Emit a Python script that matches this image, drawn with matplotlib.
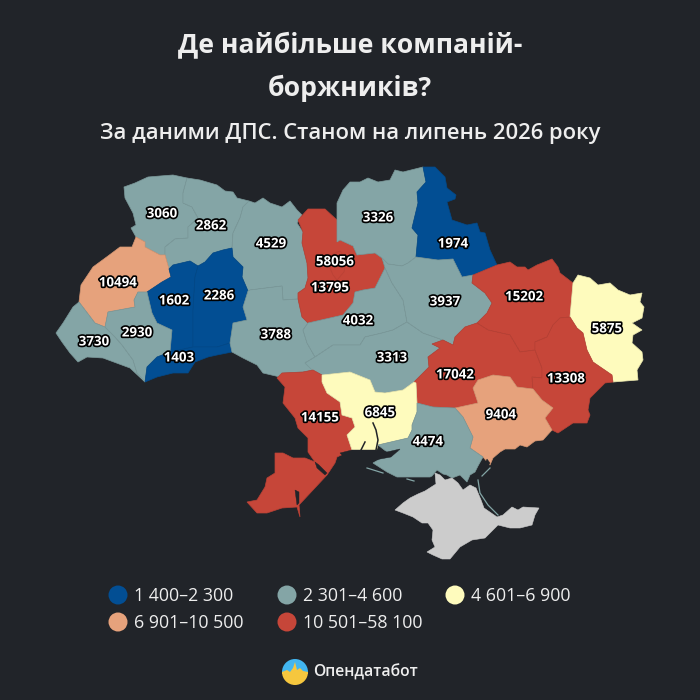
#Python3 code for the debtor companies map
import matplotlib
matplotlib.use("Agg")
import matplotlib.pyplot as plt
import matplotlib.patheffects as pe
from matplotlib.patches import Polygon, Circle, Wedge

BG = "#212429"
BLUE = "#024e93"
TEAL = "#84a5a6"
YELLOW = "#fefbbd"
ORANGE = "#e6a27c"
RED = "#c64639"
GREY = "#cccccc"
FONT = "Open Sans"

# Region values
counts = [3060, 2862, 4529, 10494, 1602, 2286, 3730, 2930, 1403, 3788, 58056, 13795, 4032,
          3313, 3326, 1974, 3937, 15202, 5875, 17042, 13308, 9404, 14155, 6845, 4474]

# Legend
bins = [2300, 4600, 6900, 10500, 58100]
bin_colors = [BLUE, TEAL, YELLOW, ORANGE, RED]
bin_labels = ["1 400–2 300", "2 301–4 600", "4 601–6 900", "6 901–10 500", "10 501–58 100"]

# Where each value sits on the map
label_x = [162, 211, 271, 118, 174, 219, 94, 137, 179, 276, 335, 330, 358,
           392, 378, 453, 445, 524, 607, 455, 566, 501, 320, 380, 428]
label_y = [214, 226, 244, 283, 301, 296, 342, 333, 358, 335, 262, 288, 321,
           358, 218, 244, 302, 297, 329, 375, 379, 415, 418, 413, 442]

# Region outlines
volyn = [(124,187),(135,183),(148,177),(160,176),(173,175),(187,178),(183,193),(183,203),(192,207),(198,218),
         (188,227),(188,238),(175,239),(165,247),(165,255),(160,255),(145,247),(145,242),(136,237),(131,228),
         (136,225),(133,213),(125,198)]
rivne = [(187,178),(200,180),(217,185),(225,191),(233,192),(237,198),(249,201),(243,207),(240,218),(233,233),(232,248),
         (223,250),(213,253),(205,262),(198,266),(190,261),(173,265),(169,269),(165,255),(165,247),(175,239),
         (188,238),(188,227),(198,218),(192,207),(183,203),(183,193)]
zhytomyr = [(249,201),(255,203),(263,198),(270,203),(282,207),(290,201),(297,210),(302,215),(297,223),(303,232),
            (302,243),(307,263),(308,278),(305,288),(298,293),(298,299),(283,300),(282,286),(250,290),(248,291),
            (242,277),(243,267),(233,257),(232,248),(233,233),(240,218),(243,207)]
lviv = [(136,237),(145,242),(145,247),(160,255),(165,255),(169,269),(171,277),(162,282),(147,292),(138,292),
        (134,300),(135,307),(108,312),(105,327),(95,323),(79,302),(81,285),(93,267),(108,256),(120,247),(132,247)]
ternopil = [(169,269),(173,265),(190,261),(198,266),(195,277),(193,310),(193,347),(170,352),(172,330),(157,323),
            (152,313),(147,292),(162,282),(171,277)]
khmelnytskyi = [(198,266),(205,262),(213,253),(223,250),(232,248),(233,257),(243,267),(242,277),(248,291),(243,307),
                (247,320),(233,323),(230,343),(217,347),(193,347),(193,310),(195,277)]
chernivtsi = [(145,382),(147,367),(157,357),(170,352),(193,347),(217,347),(230,343),(232,352),(217,355),(208,357),
              (195,362),(188,373),(173,373),(157,377)]
frankivsk = [(135,307),(134,300),(138,292),(147,292),(152,313),(157,323),(172,330),(170,352),(157,357),(147,367),
             (145,382),(137,373),(133,360),(122,345),(115,337),(105,327),(108,312)]
zakarpattia = [(73,307),(79,302),(95,323),(105,327),(115,337),(122,345),(133,360),(137,373),(145,382),(130,368),
               (103,358),(87,357),(78,362),(70,353),(62,342),(56,333),(63,323)]
vinnytsia = [(248,291),(250,290),(282,286),(283,300),(298,299),(302,317),(308,323),(303,330),(307,343),(315,357),
             (305,363),(313,370),(303,372),(282,373),(280,377),(263,373),(257,365),(243,358),(232,352),(230,343),
             (233,323),(247,320),(243,307)]
kyiv = [(298,220),(308,209),(325,209),(337,220),(337,242),(340,240),(353,246),(357,255),(375,253),(382,258),
        (385,268),(375,288),(363,290),(355,292),(353,303),(343,315),(308,323),(302,317),(298,299),(298,293),
        (305,288),(308,278),(307,263),(302,243),(303,232)]
kyiv_city = [(328,256),(340,251),(346,259),(344,272),(337,280),(333,275),(330,268)]
cherkasy = [(385,268),(392,283),(403,300),(407,322),(393,330),(382,333),(365,337),(360,345),(333,345),(315,357),
            (307,343),(303,330),(308,323),(343,315),(353,303),(355,292),(363,290),(375,288)]
kirovohrad = [(315,357),(333,345),(360,345),(365,337),(382,333),(393,330),(407,322),(423,333),(443,340),(432,344),
              (440,348),(428,357),(429,367),(414,382),(403,390),(385,393),(375,392),(370,380),(350,372),(322,375),
              (312,370),(305,363)]
chernihiv = [(337,220),(337,203),(343,190),(350,182),(360,182),(368,178),(378,182),(390,180),(395,170),(403,172),
             (423,167),(426,182),(417,192),(418,203),(412,228),(418,235),(416,257),(408,263),(402,266),(388,264),
             (382,258),(375,253),(357,255),(353,246),(340,240),(337,242)]
sumy = [(423,167),(435,167),(445,177),(447,188),(456,195),(455,199),(447,202),(452,220),(467,225),(477,223),
        (480,232),(485,233),(490,250),(497,265),(473,275),(462,277),(453,259),(438,260),(416,257),(418,235),
        (412,228),(418,203),(417,192),(426,182)]
poltava = [(382,258),(388,264),(402,266),(408,263),(416,257),(438,260),(453,259),(462,277),(473,275),(472,283),
           (485,293),(492,303),(487,313),(477,323),(465,327),(455,337),(453,345),(443,340),(423,333),(407,322),
           (403,300),(392,283),(385,268)]
kharkiv = [(473,275),(497,265),(510,262),(517,267),(525,267),(528,270),(537,265),(552,259),(558,267),(560,273),
           (573,283),(570,317),(560,318),(553,325),(547,337),(535,342),(535,350),(520,352),(510,335),(488,330),
           (477,323),(487,313),(492,303),(485,293),(472,283)]
luhansk = [(573,283),(578,275),(590,278),(598,285),(610,283),(618,290),(630,295),(642,293),(640,302),(644,307),
           (642,318),(632,323),(642,330),(633,335),(632,343),(642,352),(643,360),(637,370),(638,380),(613,382),
           (612,375),(593,362),(587,350),(583,333),(577,328),(570,317)]
donetsk = [(570,317),(577,328),(583,333),(587,350),(593,362),(612,375),(613,382),(605,383),(590,398),(588,410),
           (590,415),(587,423),(573,423),(558,433),(552,430),(545,418),(553,408),(542,400),(533,389),(532,377),
           (542,378),(542,368),(535,350),(535,342),(547,337),(553,325),(560,318)]
dnipro = [(453,345),(455,337),(465,327),(477,323),(488,330),(510,335),(520,352),(535,350),(542,368),(542,378),
          (532,377),(533,389),(517,387),(510,377),(493,375),(478,380),(473,388),(478,403),(455,408),(433,407),
          (417,403),(416,383),(414,382),(429,367),(428,357),(440,348),(432,344),(443,340)]
zaporizhzhia = [(455,408),(478,403),(473,388),(478,380),(493,375),(510,377),(517,387),(533,389),(542,400),(553,408),
                (545,418),(552,430),(543,440),(535,441),(527,447),(520,445),(515,449),(505,449),(500,452),(493,458),
                (490,465),(483,457),(470,448),(473,437),(463,417)]
odesa = [(277,378),(282,373),(303,372),(313,370),(322,375),(322,382),(327,393),(340,402),(342,415),(352,418),
         (355,427),(347,435),(352,450),(337,457),(335,463),(327,475),(299,505),(300,517),(297,507),(282,508),
         (267,513),(257,513),(247,502),(257,500),(265,487),(267,478),(275,473),(275,453),(283,453),(293,458),
         (305,458),(315,462),(308,452),(308,438),(298,428),(295,418),(283,403),(285,387)]
mykolaiv = [(322,375),(350,372),(370,380),(375,392),(385,393),(403,390),(414,382),(416,383),(417,403),(417,412),
            (412,425),(412,430),(408,438),(378,445),(376,452),(360,452),(352,450),(347,435),(355,427),(352,418),
            (342,415),(340,402),(327,393),(322,382)]
kherson = [(417,403),(433,407),(455,408),(463,417),(473,437),(470,448),(483,457),(478,466),(475,472),(470,475),
           (467,482),(460,475),(452,478),(447,475),(443,474),(437,470),(432,476),(430,477),(413,477),(397,477),
           (387,472),(373,463),(380,459),(390,457),(400,450),(387,452),(378,445),(408,438),(412,430),(412,425),(417,412)]
crimea = [(395,510),(403,503),(410,498),(418,494),(425,491),(436,484),(435,473),(440,475),(445,480),(452,478),
          (458,483),(463,490),(470,485),(476,488),(481,500),(484,508),(497,517),(503,515),(512,507),(518,510),(523,507),
          (539,508),(535,515),(532,525),(520,528),(510,528),(498,525),(485,538),(472,540),(460,547),(450,559),
          (442,559),(433,555),(427,552),(435,547),(432,540),(433,530),(428,523),(422,523),(413,517),(403,513)]

regions = [volyn, rivne, zhytomyr, lviv, ternopil, khmelnytskyi, zakarpattia, frankivsk, chernivtsi, vinnytsia,
           kyiv_city, kyiv, cherkasy, kirovohrad, chernihiv, sumy, poltava, kharkiv, luhansk, dnipro, donetsk,
           zaporizhzhia, odesa, mykolaiv, kherson]
region_values = [3060, 2862, 4529, 10494, 1602, 2286, 3730, 2930, 1403, 3788,
                 58056, 13795, 4032, 3313, 3326, 1974, 3937, 15202, 5875, 17042, 13308, 9404, 14155, 6845, 4474]

# Dark water cut into the land
water = [[(340,453),(352,450),(376,450),(387,452),(400,449),(391,457),(380,459),(372,461),(360,456),(345,458)],
         [(315,462),(319,465),(327,473),(325,475),(317,468)],
         [(295,490),(297,505),(299,503),(299,492)],
         [(487,459),(490,463),(484,472),(482,470)]]
rivers = [[(373,423),(376,430),(378,440),(376,450)], [(365,442),(361,450)]]
spits = [[(367,468),(383,473)], [(407,479),(414,481)], [(482,476),(490,468)]]
arabat = [(478,480),(480,493),(488,505),(498,515)]


def color_of(value):
    for top, col in zip(bins, bin_colors):
        if value <= top:
            return col
    return bin_colors[-1]


def darker(col, k=0.93):
    r, g, b = matplotlib.colors.to_rgb(col)
    return (r * k, g * k, b * k)


fig = plt.figure(figsize=(7, 7), dpi=100, facecolor=BG)
ax = fig.add_axes([0, 0, 1, 1])
ax.set_xlim(0, 700)
ax.set_ylim(700, 0)
ax.axis("off")

for shape, val in zip(regions, region_values):
    col = color_of(val)
    z = 3 if shape is kyiv_city else 2
    ax.add_patch(Polygon(shape, closed=True, facecolor=col, edgecolor=darker(col), lw=0.5, zorder=z))
ax.add_patch(Polygon(crimea, closed=True, facecolor=GREY, edgecolor=GREY, lw=0.4, zorder=2))
for w in water:
    ax.add_patch(Polygon(w, closed=True, facecolor=BG, edgecolor=BG, lw=0.3, zorder=4))
for r in rivers:
    ax.plot([p[0] for p in r], [p[1] for p in r], color=BG, lw=1.1, zorder=4)
for s in spits:
    ax.plot([p[0] for p in s], [p[1] for p in s], color=TEAL, lw=0.9, zorder=4)
ax.plot([p[0] for p in arabat], [p[1] for p in arabat], color=TEAL, lw=0.9, zorder=4)

# Number labels
for x, y, n in zip(label_x, label_y, counts):
    ax.text(x, y, str(n), ha="center", va="center", fontsize=9.6, fontweight="bold", family=FONT,
            color="white", zorder=6, path_effects=[pe.withStroke(linewidth=2.4, foreground="black")])

# Titles
ax.text(350, 46, "Де найбільше компаній-", ha="center", va="center", fontsize=19.1, fontweight="bold",
        family=FONT, color="#eeeeee")
ax.text(350, 88, "боржників?", ha="center", va="center", fontsize=19.1, fontweight="bold",
        family=FONT, color="#eeeeee")
ax.text(350, 134, "За даними ДПС. Станом на липень 2026 року", ha="center", va="center", fontsize=15.8,
        family=FONT, fontweight="semibold", color="#eeeeee")

# Legend
legend_x = [118, 287, 455, 118, 287]
legend_y = [595, 595, 595, 622, 622]
for x, y, col, lab in zip(legend_x, legend_y, bin_colors, bin_labels):
    ax.add_patch(Circle((x, y), 9.5, facecolor=col, edgecolor="none", zorder=3))
    ax.text(x + 16, y + 1, lab, ha="left", va="center", fontsize=12.8, family=FONT, color="#eeeeee")

# Logo
ax.add_patch(Wedge((295, 672), 13, 180, 360, facecolor="#42b6f0", edgecolor="none", zorder=3))
ax.add_patch(Wedge((295, 672), 13, 0, 180, facecolor="#f6c73e", edgecolor="none", zorder=3))
ax.add_patch(Polygon([(282, 672), (287, 670), (290, 672), (293, 668), (295, 662), (297, 670), (300, 668),
                      (303, 671), (308, 672), (308, 674), (282, 674)], closed=True,
                     facecolor="#f6c73e", edgecolor="none", zorder=4))
ax.text(313, 672, "Опендатабот", ha="left", va="center", fontsize=11.3, fontweight="semibold",
        family=FONT, color="#eeeeee")

fig.savefig("out.png", dpi=100, facecolor=BG)
